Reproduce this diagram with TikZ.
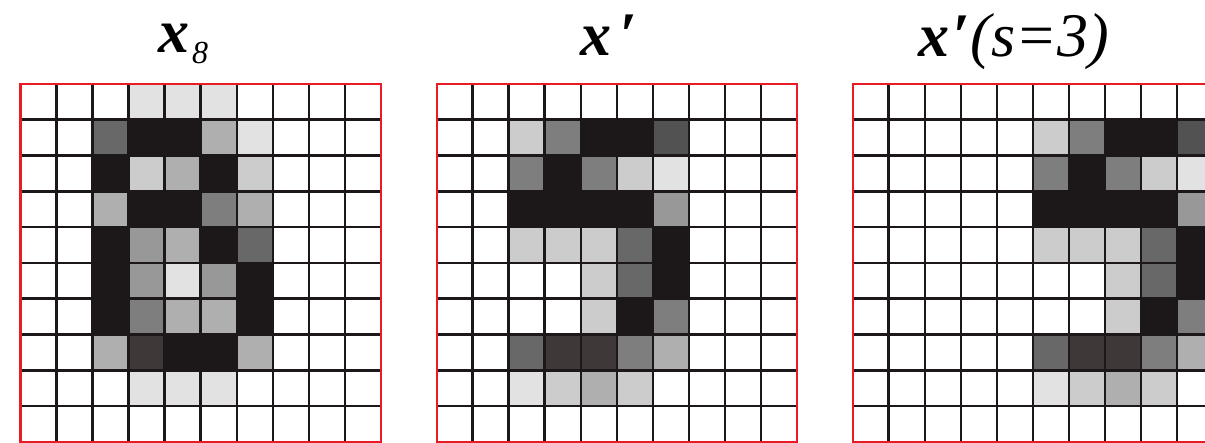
\documentclass[tikz,border=0pt]{standalone}
\usepackage{fontspec}
\setmainfont{Liberation Serif}
\newfontfamily\titlefont{Liberation Serif}
\definecolor{cK}{RGB}{28,24,25}
\definecolor{cD3}{RGB}{62,56,57}
\definecolor{cD2}{RGB}{82,82,82}
\definecolor{cD1}{RGB}{104,104,104}
\definecolor{cM3}{RGB}{126,126,126}
\definecolor{cM2}{RGB}{152,152,152}
\definecolor{cM1}{RGB}{175,175,175}
\definecolor{cL2}{RGB}{204,204,204}
\definecolor{cL1}{RGB}{226,226,226}
\definecolor{gridred}{RGB}{232,28,36}
\newcommand\pixgrid[3]{%
  \begin{scope}[shift={(#1,0)}]
    \foreach \r/\c/\g in #2 {
      \fill[\g] ({(\c+#3)*36.05},{84+\r*35.8}) rectangle ++(36.05,35.8);
    }
    \foreach \i in {1,...,9} {
      \draw[gridline] ({\i*36.05},84) -- ({\i*36.05},442);
      \draw[gridline] (0,{84+\i*35.8}) -- (360.5,{84+\i*35.8});
    }
    \draw[gridborder] (0,84) rectangle (360.5,442);
  \end{scope}}
\newcommand\digiteight{0/3/cL1,0/4/cL1,0/5/cL1,
1/2/cD1,1/3/cK,1/4/cK,1/5/cM1,1/6/cL1,
2/2/cK,2/3/cL2,2/4/cM1,2/5/cK,2/6/cL2,
3/2/cM1,3/3/cK,3/4/cK,3/5/cM3,3/6/cM1,
4/2/cK,4/3/cM2,4/4/cM1,4/5/cK,4/6/cD1,
5/2/cK,5/3/cM2,5/4/cL1,5/5/cM2,5/6/cK,
6/2/cK,6/3/cM3,6/4/cM1,6/5/cM1,6/6/cK,
7/2/cM1,7/3/cD3,7/4/cK,7/5/cK,7/6/cM1,
8/3/cL1,8/4/cL1,8/5/cL1}
\newcommand\digitthree{1/2/cL2,1/3/cM3,1/4/cK,1/5/cK,1/6/cD2,
2/2/cM3,2/3/cK,2/4/cM3,2/5/cL2,2/6/cL1,
3/2/cK,3/3/cK,3/4/cK,3/5/cK,3/6/cM2,
4/2/cL2,4/3/cL2,4/4/cL2,4/5/cD1,4/6/cK,
5/4/cL2,5/5/cD1,5/6/cK,
6/4/cL2,6/5/cK,6/6/cM3,
7/2/cD1,7/3/cD3,7/4/cD3,7/5/cM3,7/6/cM1,
8/2/cL1,8/3/cL2,8/4/cM1,8/5/cL2}
\begin{document}
\begin{tikzpicture}[x=1pt,y=-1pt,
  gridline/.style={draw=cK,line width=2.6pt},
  gridborder/.style={draw=gridred,line width=2.2pt},
  title/.style={inner sep=0pt,anchor=base west,font=\titlefont\fontsize{62}{62}\selectfont\bfseries\itshape}]
\clip (0,0) rectangle (1205,443);
\fill[white] (0,0) rectangle (1205,443);
\pixgrid{20.5}{\digiteight}{0}
\pixgrid{436.6}{\digitthree}{0}
\pixgrid{852.7}{\digitthree}{3}
\node[title] (t1) at (158,53) {x\hspace{3pt}\raisebox{-11pt}{\fontsize{32}{32}\selectfont\mdseries 8}};
\node[title] (t2) at (580,56) {x\hspace{8pt}\symbol{"2032}};
\node[title] (t3) at (918,57) {x\hspace{3pt}\symbol{"2032}\hspace{1pt}{\mdseries(s=3)}};
\end{tikzpicture}
\end{document}
